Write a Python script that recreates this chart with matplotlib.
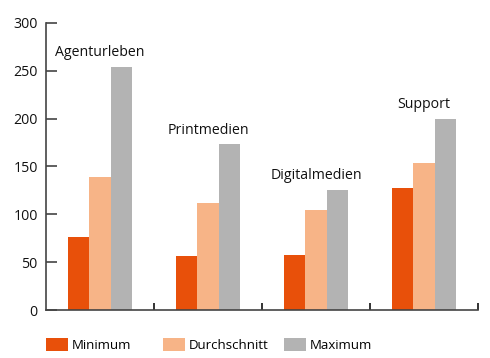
import matplotlib
matplotlib.use("Agg")
import matplotlib.pyplot as plt
import numpy as np
from matplotlib.patches import Patch

categories = ["Agenturleben", "Printmedien", "Digitalmedien", "Support"]
series_names = ["Minimum", "Durchschnitt", "Maximum"]
minimum = [76, 56, 57, 128]
durchschnitt = [139, 112, 105, 154]
maximum = [254, 173, 125, 200]
colors = ["#E8500A", "#F7B487", "#B3B3B3"]

plt.rcParams["font.family"] = ["Open Sans", "DejaVu Sans"]
plt.rcParams["font.size"] = 9.5

fig = plt.figure(figsize=(4.9, 3.58), dpi=100)
ax = fig.add_axes([46 / 490, 48 / 358, 432 / 490, 287 / 358])

x = np.arange(len(categories))
width = 0.2
values = [minimum, durchschnitt, maximum]
for k, (vals, col) in enumerate(zip(values, colors)):
    ax.bar(x + (k - 1) * width, vals, width=width, color=col, linewidth=0)

for i, cat in enumerate(categories):
    top = max(minimum[i], durchschnitt[i], maximum[i])
    ax.annotate(cat, (x[i], top), xytext=(0, 5), textcoords="offset points",
                ha="center", va="bottom", fontsize=10.2, color="#111111")

ax.set_xlim(-0.5, len(categories) - 0.5)
ax.set_ylim(0, 300)
ax.set_yticks([0, 50, 100, 150, 200, 250, 300])
ax.set_xticks(np.arange(len(categories)) + 0.5)
ax.set_xticklabels([])

for side in ["top", "right"]:
    ax.spines[side].set_visible(False)
for side in ["left", "bottom"]:
    ax.spines[side].set_color("#444444")
    ax.spines[side].set_linewidth(1.2)

ax.tick_params(axis="y", direction="in", length=8, width=1.2, color="#444444",
               labelsize=10.2, labelcolor="#111111", pad=6)
ax.tick_params(axis="x", direction="in", length=5, width=1.2, color="#111111")

legend_x = [46, 163, 284]
for name, col, lx in zip(series_names, colors, legend_x):
    fig.legend(handles=[Patch(facecolor=col, edgecolor="none")], labels=[name],
               loc="center left", bbox_to_anchor=(lx / 490, 13 / 358),
               frameon=False, handlelength=1.65, handleheight=1.15,
               handletextpad=0.3, borderpad=0, borderaxespad=0,
               fontsize=9.5)

fig.savefig("out.png", dpi=100)
